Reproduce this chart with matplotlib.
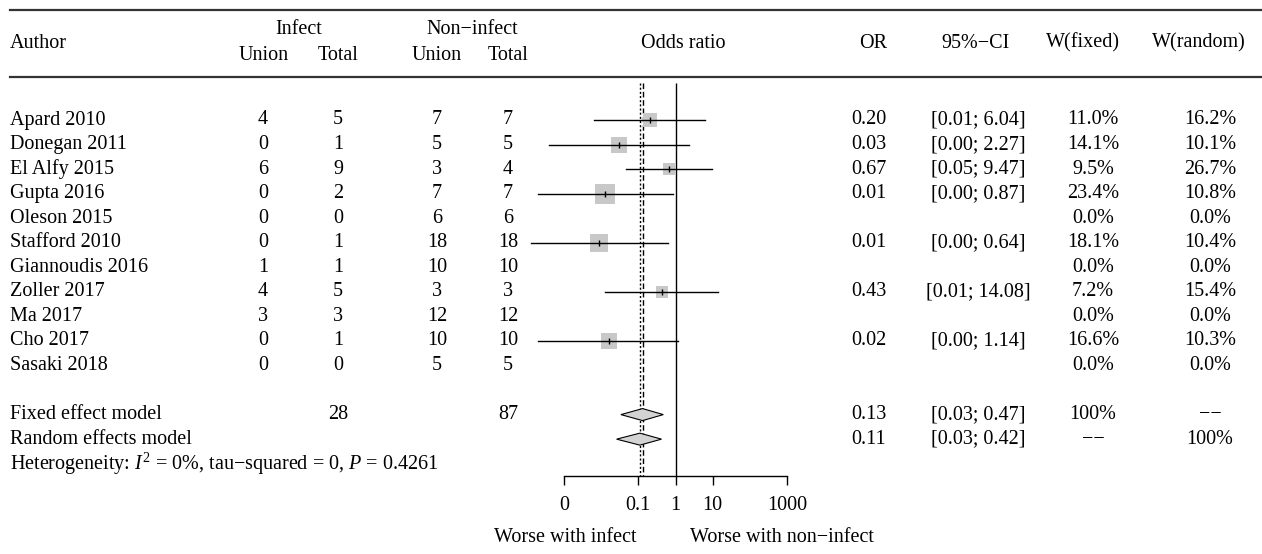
import matplotlib
matplotlib.use("Agg")
import matplotlib.pyplot as plt
from matplotlib.patches import Polygon
import numpy as np

plt.rcParams['font.family'] = ['Liberation Serif', 'DejaVu Serif']
plt.rcParams['mathtext.fontset'] = 'custom'
plt.rcParams['mathtext.rm'] = 'Liberation Serif'
plt.rcParams['mathtext.it'] = 'Liberation Serif:italic'

# study data
authors = ["Apard 2010", "Donegan 2011", "El Alfy 2015", "Gupta 2016", "Oleson 2015",
           "Stafford 2010", "Giannoudis 2016", "Zoller 2017", "Ma 2017", "Cho 2017",
           "Sasaki 2018"]
inf_union = [4, 0, 6, 0, 0, 0, 1, 4, 3, 0, 0]
inf_total = [5, 1, 9, 2, 0, 1, 1, 5, 3, 1, 0]
non_union = [7, 5, 3, 7, 6, 18, 10, 3, 12, 10, 5]
non_total = [7, 5, 4, 7, 6, 18, 10, 3, 12, 10, 5]
nan = np.nan
or_est = [0.20, 0.030, 0.67, 0.013, nan, 0.009, nan, 0.43, nan, 0.016, nan]
ci_lo = [0.0064, 0.0004, 0.046, 0.0002, nan, 0.00013, nan, 0.0128, nan, 0.0002, nan]
ci_hi = [6.04, 2.27, 9.47, 0.87, nan, 0.64, nan, 14.08, nan, 1.14, nan]
w_fixed = [11.0, 14.1, 9.5, 23.4, 0.0, 18.1, 0.0, 7.2, 0.0, 16.6, 0.0]
w_random = [16.2, 10.1, 26.7, 10.8, 0.0, 10.4, 0.0, 15.4, 0.0, 10.3, 0.0]

# pooled estimates
fixed_or, fixed_lo, fixed_hi = 0.13, 0.034, 0.47
random_or, random_lo, random_hi = 0.11, 0.026, 0.42
total_inf, total_non = 28, 87
tick_vals = [0.001, 0.1, 1, 10, 1000]
tick_labels = ["0", "0.1", "1", "10", "1000"]

W, H = 1262, 554
ROW0, STEP = 120.0, 24.55
def row(py):
    return (py - ROW0) / STEP

fs = 14.5
fig = plt.figure(figsize=(W / 100, H / 100), dpi=100)
ax = fig.add_axes([0, 0, 1, 1])
ax.set_xlim(0, W)
ax.set_ylim(row(H), row(0))
ax.axis('off')

# forest panel, log scale: 1 at px 675.5, 37.17 px per decade
L, R = 500, 820
dec, one = 37.17, 675.5
ax2 = fig.add_axes([L / W, 0, (R - L) / W, 1])
ax2.set_xscale('log')
ax2.set_xlim(10 ** ((L - one) / dec), 10 ** ((R - one) / dec))
ax2.set_ylim(row(H), row(0))
ax2.patch.set_alpha(0)
for s in ['top', 'left', 'right']:
    ax2.spines[s].set_visible(False)
y_axis = row(476)
ax2.spines['bottom'].set_position(('data', y_axis))
ax2.spines['bottom'].set_bounds(tick_vals[0], tick_vals[-1])
ax2.spines['bottom'].set_linewidth(1)
ax2.set_xticks(tick_vals)
ax2.set_xticklabels(tick_labels, fontsize=fs)
ax2.xaxis.set_minor_locator(matplotlib.ticker.NullLocator())
ax2.tick_params(axis='x', length=6.5, width=1, pad=8)
ax2.set_yticks([])

# reference lines
y_top = row(83)
ax2.vlines(1, y_top, y_axis, color='black', lw=1)
ax2.vlines(fixed_or, y_top, y_axis, color='black', lw=1, linestyles=(0, (4, 2)))
ax2.vlines(random_or, y_top, y_axis, color='black', lw=1, linestyles=(0, (1.5, 1.5)))

# study markers
n = len(authors)
for i in range(n):
    if np.isnan(or_est[i]):
        continue
    side = 4.1 * np.sqrt(w_fixed[i]) * 0.72
    ax2.plot(or_est[i], i, marker='s', markersize=side, color='#c8c8c8',
             markeredgewidth=0, zorder=2)
    ax2.plot([ci_lo[i], ci_hi[i]], [i, i], color='black', lw=1, zorder=3)
    ax2.plot(or_est[i], i, marker='|', markersize=4.5, color='black',
             markeredgewidth=1, zorder=4)

# pooled diamonds
h = 6 / STEP
y_fixed, y_random = n + 1, n + 2
for y, est, lo, hi in [(y_fixed, fixed_or, fixed_lo, fixed_hi),
                       (y_random, random_or, random_lo, random_hi)]:
    ax2.add_patch(Polygon([(lo, y), (est, y - h), (hi, y), (est, y + h)],
                          closed=True, facecolor='#d3d3d3', edgecolor='black',
                          lw=0.8, zorder=3))

# header
ax.plot([10, W], [row(10), row(10)], color='#333333', lw=1.6)
ax.plot([10, W], [row(77), row(77)], color='#333333', lw=1.6)
hy, hy1, hy2 = row(43), row(30), row(55)
kw = dict(fontsize=fs, va='center')
ax.text(10, hy, "Author", ha='left', **kw)
ax.text(299, hy1, "Infect", ha='center', **kw)
ax.text(264, hy2, "Union", ha='center', **kw)
ax.text(338, hy2, "Total", ha='center', **kw)
ax.text(472, hy1, "Non\u2212infect", ha='center', **kw)
ax.text(437, hy2, "Union", ha='center', **kw)
ax.text(508, hy2, "Total", ha='center', **kw)
ax.text(683, hy, "Odds ratio", ha='center', **kw)
ax.text(873, hy, "OR", ha='center', **kw)
ax.text(975, hy, "95%\u2212CI", ha='center', **kw)
ax.text(1083, hy, "W(fixed)", ha='center', **kw)
ax.text(1199, hy, "W(random)", ha='center', **kw)

# table rows
for i in range(n):
    ax.text(10, i, authors[i], ha='left', **kw)
    ax.text(263, i, str(inf_union[i]), ha='center', **kw)
    ax.text(338, i, str(inf_total[i]), ha='center', **kw)
    ax.text(437, i, str(non_union[i]), ha='center', **kw)
    ax.text(508, i, str(non_total[i]), ha='center', **kw)
    if not np.isnan(or_est[i]):
        ax.text(869, i, f"{or_est[i]:.2f}", ha='center', **kw)
        ax.text(978, i, f"[{ci_lo[i]:.2f}; {ci_hi[i]:.2f}]", ha='center', **kw)
    ax.text(1093, i, f"{w_fixed[i]:.1f}%", ha='center', **kw)
    ax.text(1210, i, f"{w_random[i]:.1f}%", ha='center', **kw)

ax.text(10, y_fixed, "Fixed effect model", ha='left', **kw)
ax.text(338, y_fixed, str(total_inf), ha='center', **kw)
ax.text(508, y_fixed, str(total_non), ha='center', **kw)
ax.text(869, y_fixed, f"{fixed_or:.2f}", ha='center', **kw)
ax.text(978, y_fixed, f"[{fixed_lo:.2f}; {fixed_hi:.2f}]", ha='center', **kw)
ax.text(1093, y_fixed, "100%", ha='center', **kw)
ax.text(1210, y_fixed, "\u2212\u2212", ha='center', **kw)

ax.text(10, y_random, "Random effects model", ha='left', **kw)
ax.text(869, y_random, f"{random_or:.2f}", ha='center', **kw)
ax.text(978, y_random, f"[{random_lo:.2f}; {random_hi:.2f}]", ha='center', **kw)
ax.text(1093, y_random, "\u2212\u2212", ha='center', **kw)
ax.text(1210, y_random, "100%", ha='center', **kw)

ax.text(10, n + 3, "Heterogeneity: $I^2$ = 0%, tau\u2212squared = 0, $P$ = 0.4261",
        ha='left', **kw)

ax.text(637, row(538), "Worse with infect", ha='right', **kw)
ax.text(690, row(538), "Worse with non\u2212infect", ha='left', **kw)

fig.savefig("out.png", dpi=100)
